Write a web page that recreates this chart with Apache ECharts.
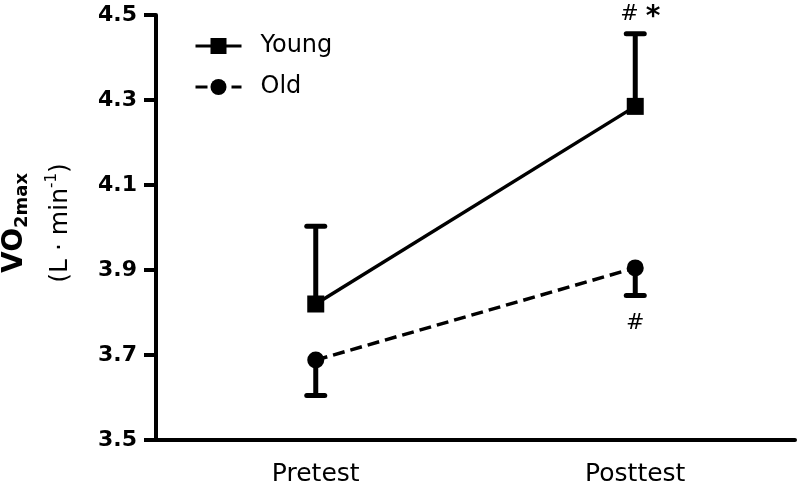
<!DOCTYPE html>
<html>
<head>
<meta charset="utf-8">
<script src="https://cdn.jsdelivr.net/npm/echarts@6/dist/echarts.min.js"></script>
<style>
  html, body { margin: 0; padding: 0; background: #fff; }
  #chart { width: 797px; height: 487px; }
</style>
</head>
<body>
<div id="chart"></div>
<script>
// values
var categories = ['Pretest', 'Posttest'];
var youngMean = [3.82, 4.285];
var youngErrTop = [4.003, 4.456];   // upper SD bar end
var oldMean = [3.688, 3.905];
var oldErrBottom = [3.605, 3.840];  // lower SD bar end
var youngMarks = ['', '# *'];
var oldMarks = ['', '#'];
var yTicks = [3.5, 3.7, 3.9, 4.1, 4.3, 4.5];

var FONT = '"DejaVu Sans", "Liberation Sans", sans-serif';

var ctx = document.createElement('canvas').getContext('2d');
function textWidth(t, font) {
  ctx.font = font;
  return ctx.measureText(t).width;
}

// error bar + significance marks, drawn under the line markers
function errorSeries(name, means, ends, marks, markOffset) {
  return {
    type: 'custom',
    name: name,
    z: 1,
    silent: true,
    data: means.map(function (m, i) { return [i, m, ends[i]]; }),
    encode: { x: 0, y: [1, 2] },
    renderItem: function (params, api) {
      var i = api.value(0);
      var p0 = api.coord([i, api.value(1)]);
      var p1 = api.coord([i, api.value(2)]);
      var children = [
        { type: 'line', shape: { x1: p0[0], y1: p0[1], x2: p1[0], y2: p1[1] },
          style: { stroke: '#000', lineWidth: 5 } },
        { type: 'line', shape: { x1: p1[0] - 9, y1: p1[1], x2: p1[0] + 9, y2: p1[1] },
          style: { stroke: '#000', lineWidth: 5, lineCap: 'round' } }
      ];
      var mark = marks[params.dataIndex];
      if (mark) {
        var rich = mark.split(' ').map(function (s) {
          return s === '*' ? '{s|*}' : '{h|' + s + '}';
        }).join('{g| }');
        children.push({
          type: 'text',
          style: {
            text: rich,
            rich: {
              h: { fontSize: 22, fontFamily: FONT, fill: '#000', color: '#000' },
              s: { fontSize: 28, fontWeight: 'bold', fontFamily: FONT, fill: '#000', color: '#000', padding: [6, 0, 0, 0] },
              g: { fontSize: 22, fontFamily: FONT }
            },
            x: p1[0] + (mark.length > 1 ? 5 : 0),
            y: p1[1] + markOffset,
            fill: '#000',
            align: 'center', verticalAlign: 'middle',
            textAlign: 'center', textVerticalAlign: 'middle'
          }
        });
      }
      return { type: 'group', children: children };
    }
  };
}

// y axis title: VO2max (L · min-1), rotated
function axisTitle() {
  var f1 = 'bold 28px ' + FONT, f1s = 'bold 18px ' + FONT;
  var f2 = '25px ' + FONT, f2s = '15px ' + FONT;
  var wVO = textWidth('VO', f1), wSub = textWidth('2max', f1s);
  var wA = textWidth('(L · min', f2), wSup = textWidth('-1', f2s), wB = textWidth(')', f2);
  var x1 = -(wVO + wSub) / 2;
  var x2 = -(wA + wSup + wB) / 2;
  function t(text, x, y, font) {
    return { type: 'text', style: { text: text, x: x, y: y, font: font, fill: '#000',
      align: 'left', verticalAlign: 'middle', textAlign: 'left', textVerticalAlign: 'middle' } };
  }
  return {
    type: 'group', x: 15, y: 223, rotation: Math.PI / 2,
    children: [
      t('VO', x1, 0, f1),
      t('2max', x1 + wVO, 7, f1s),
      t('(L · min', x2, 45, f2),
      t('-1', x2 + wA, 37, f2s),
      t(')', x2 + wA + wSup, 45, f2)
    ]
  };
}

var chart = echarts.init(document.getElementById('chart'), null, { renderer: 'canvas' });
var option = {
  animation: false,
  backgroundColor: '#fff',
  textStyle: { fontFamily: FONT },
  grid: { left: 156, right: 2, top: 15, bottom: 47, containLabel: false, outerBoundsMode: 'none' },
  legend: {
    data: ['Young', 'Old'],
    orient: 'vertical',
    left: 189, top: 29,
    itemWidth: 46, itemHeight: 20, itemGap: 17,
    selectedMode: false,
    lineStyle: { width: 3 },
    textStyle: { fontFamily: FONT, fontSize: 24, color: '#000', padding: [0, 0, 0, 14] }
  },
  xAxis: {
    type: 'category',
    data: categories,
    boundaryGap: true,
    axisLine: { lineStyle: { color: '#000', width: 4 } },
    axisTick: { alignWithLabel: true, length: 12, lineStyle: { color: '#000', width: 4 } },
    axisLabel: { color: '#000', fontFamily: FONT, fontSize: 25, margin: 22 },
    splitLine: { show: false }
  },
  yAxis: {
    type: 'value',
    min: yTicks[0], max: yTicks[yTicks.length - 1],
    interval: Math.round((yTicks[1] - yTicks[0]) * 10) / 10,
    axisLine: { show: true, lineStyle: { color: '#000', width: 4 } },
    axisTick: { show: true, length: 12, lineStyle: { color: '#000', width: 4 } },
    axisLabel: { color: '#000', fontFamily: FONT, fontSize: 22, fontWeight: 'bold', margin: 19,
      formatter: function (v) { return v.toFixed(1); } },
    splitLine: { show: false }
  },
  graphic: [axisTitle()],
  series: [
    errorSeries('Young SD', youngMean, youngErrTop, youngMarks, -19),
    errorSeries('Old SD', oldMean, oldErrBottom, oldMarks, 28),
    {
      name: 'Young', type: 'line', z: 3,
      data: youngMean,
      symbol: 'rect', symbolSize: 17,
      itemStyle: { color: '#000' },
      lineStyle: { color: '#000', width: 3.5, type: 'solid' }
    },
    {
      name: 'Old', type: 'line', z: 3,
      data: oldMean,
      symbol: 'circle', symbolSize: 17,
      itemStyle: { color: '#000' },
      lineStyle: { color: '#000', width: 3.5, type: [12, 6] }
    }
  ]
};
chart.setOption(option);
</script>
</body>
</html>
